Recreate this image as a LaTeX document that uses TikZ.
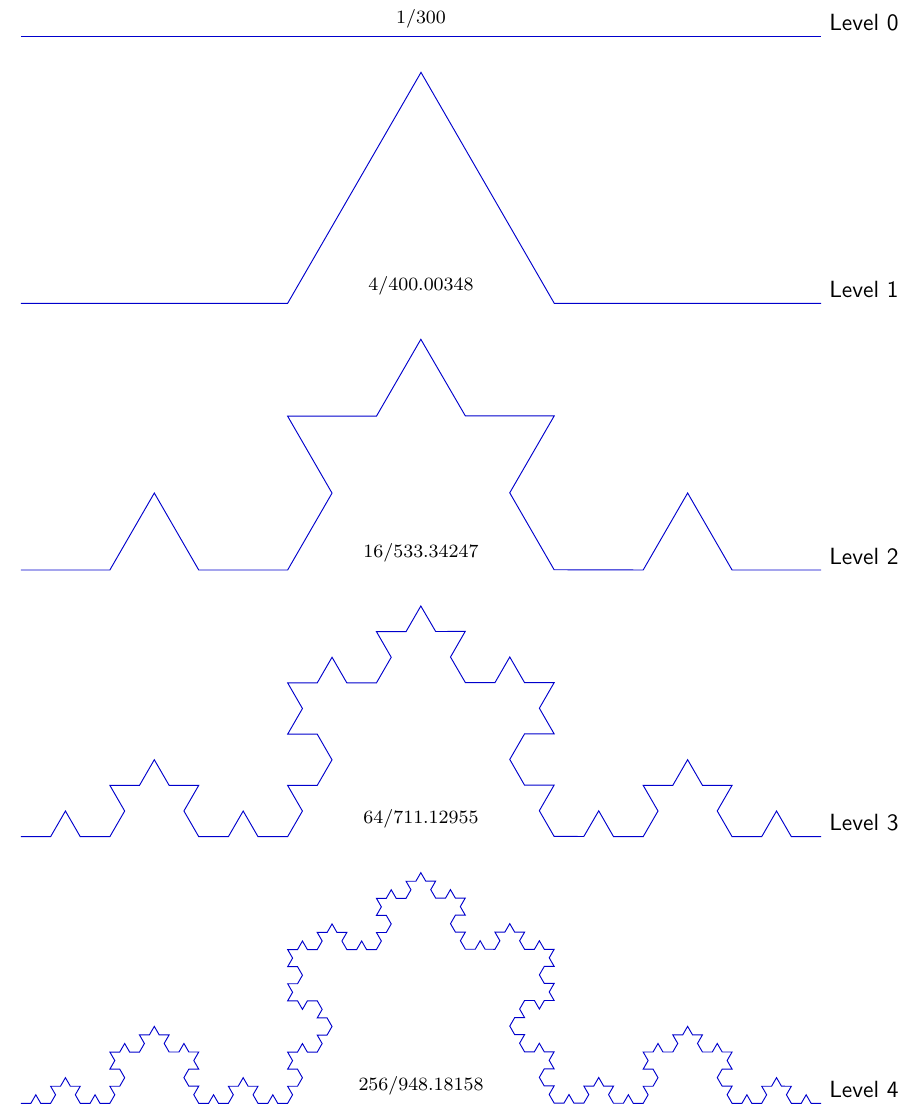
\documentclass[tikz,border=0pt]{standalone}
\usepackage{tikz}
\usetikzlibrary{decorations.fractals}

\begin{document}
\begin{tikzpicture}[decoration=Koch snowflake,
  curve/.style={draw=blue!80!black, line width=0.4pt},
  count/.style={above, font=\footnotesize},
  level/.style={anchor=base west, yshift=2.5pt, font=\sffamily}]
  \useasboundingbox (-0.315,-0.01) rectangle (13.44,16.55);

  \draw [curve] (0,16) -- (12,16) node [level] (l0) {Level 0};
  \node [count] (c0) at (6,16) {1/300};

  \draw [curve] decorate{ (0,12) -- (12,12) } node [level] (l1) {Level 1};
  \node [count] (c1) at (6,12) {4/400.00348};

  \draw [curve] decorate{ decorate{ (0,8) -- (12,8) }} node [level] (l2) {Level 2};
  \node [count] (c2) at (6,8) {16/533.34247};

  \draw [curve] decorate{ decorate{ decorate{ (0,4) -- (12,4) }}} node [level] (l3) {Level 3};
  \node [count] (c3) at (6,4) {64/711.12955};

  \draw [curve] decorate{ decorate{ decorate{ decorate{ (0,0) -- (12,0) }}}} node [level] (l4) {Level 4};
  \node [count] (c4) at (6,0) {256/948.18158};
\end{tikzpicture}
\end{document}
